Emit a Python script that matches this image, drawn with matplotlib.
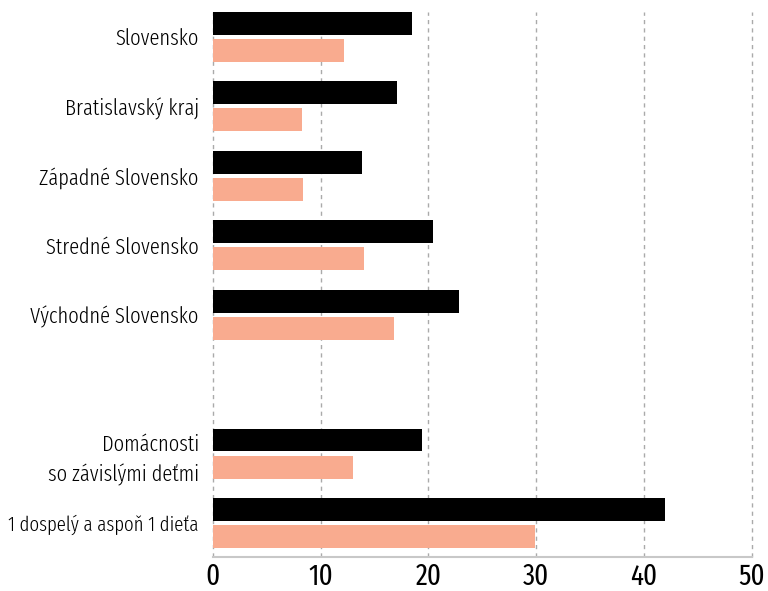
import numpy as np
from matplotlib import pyplot as plt

categories = [
    "Slovensko",
    "Bratislavský kraj",
    "Západné Slovensko",
    "Stredné Slovensko",
    "Východné Slovensko",
    "Domácnosti\nso závislými deťmi",
    "1 dospelý a aspoň 1 dieťa",
]
positions = [0, 1, 2, 3, 4, 6, 7]
black_values = [18.5, 17.1, 13.8, 20.4, 22.8, 19.4, 41.9]
salmon_values = [12.2, 8.3, 8.4, 14.0, 16.8, 13.0, 29.9]
x_ticks = [0, 10, 20, 30, 40, 50]

plt.rcParams["font.family"] = ["Fira Sans Extra Condensed", "DejaVu Sans"]
plt.rcParams["font.weight"] = 300

fig = plt.figure(figsize=(7.68, 5.91), dpi=100)
ax = fig.add_axes([0.277, 0.0575, 0.702, 0.9225])

pos = np.array(positions)
h = 0.33
ax.barh(pos - 0.195, black_values, height=h, color="black", zorder=3)
ax.barh(pos + 0.195, salmon_values, height=h, color="#f9ab8f", zorder=3)

ax.set_xlim(0, 50)
ax.set_ylim(7.49, -0.36)
ax.set_xticks(x_ticks)
ax.set_xticklabels([str(t) for t in x_ticks], fontsize=21, fontweight=400)
ax.set_yticks(positions)
ax.set_yticklabels(categories, fontsize=16, fontweight=300, linespacing=1.45)
# longest label would not fit at the same size
ax.get_yticklabels()[-1].set_fontsize(14.8)
ax.tick_params(axis="y", length=0, pad=10)
ax.tick_params(axis="x", length=0, pad=4)

ax.xaxis.grid(True, linestyle=(0, (3, 3)), color="#aaaaaa", linewidth=1, zorder=0, clip_on=False)
ax.set_axisbelow(True)
for side in ["top", "right", "left"]:
    ax.spines[side].set_visible(False)
ax.spines["bottom"].set_color("#c8c8c8")
ax.spines["bottom"].set_linewidth(1.5)

fig.savefig("out.png", dpi=100)
